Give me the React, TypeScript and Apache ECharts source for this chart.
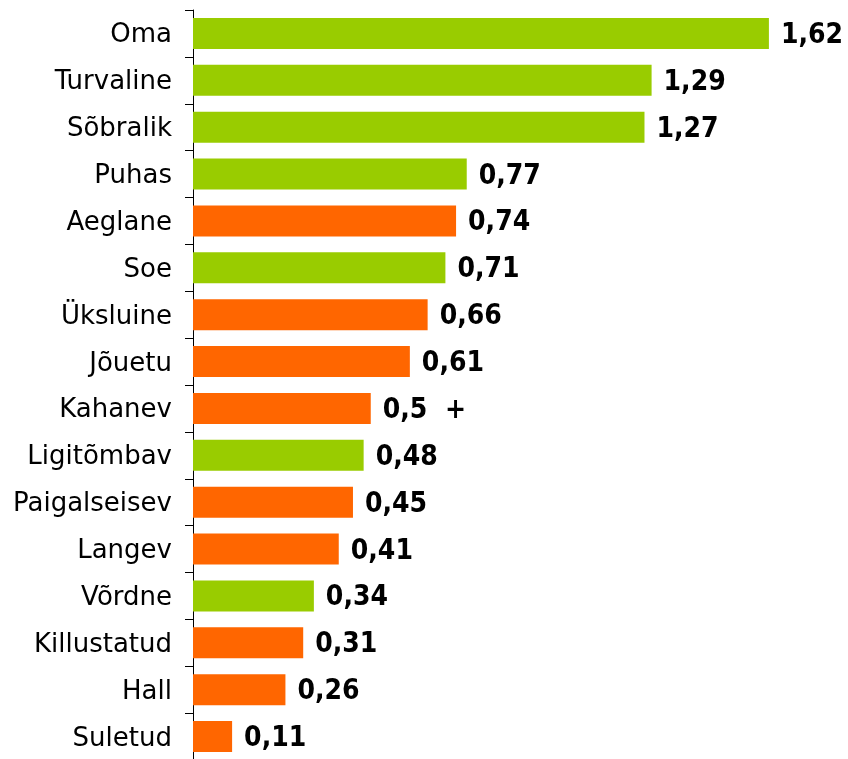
import React, { useEffect, useRef } from "react";
import * as echarts from "echarts";

const categories = ["Oma", "Turvaline", "Sõbralik", "Puhas", "Aeglane", "Soe", "Üksluine", "Jõuetu", "Kahanev", "Ligitõmbav", "Paigalseisev", "Langev", "Võrdne", "Killustatud", "Hall", "Suletud"];
const values = [1.62, 1.29, 1.27, 0.77, 0.74, 0.71, 0.66, 0.61, 0.5, 0.48, 0.45, 0.41, 0.34, 0.31, 0.26, 0.11];
const groups = ["pos", "pos", "pos", "pos", "neg", "pos", "neg", "neg", "neg", "pos", "neg", "neg", "pos", "neg", "neg", "neg"];
const suffixes = ["", "", "", "", "", "", "", "", "  +", "", "", "", "", "", "", ""];
const colors: Record<string, string> = { pos: "#99CC00", neg: "#FF6600" };

export default function App() {
  const ref = useRef<HTMLDivElement>(null);
  useEffect(() => {
    const chart = echarts.init(ref.current!, null, { renderer: "svg" });
    chart.setOption({
      animation: false,
      grid: { left: 193, top: 10, width: 711, height: 750, containLabel: false, outerBoundsMode: "none" },
      xAxis: { type: "value", min: 0, max: 2, show: false },
      yAxis: {
        type: "category",
        data: categories,
        inverse: true,
        axisLine: { show: true, lineStyle: { color: "#000", width: 1 } },
        axisTick: { show: true, length: 8, lineStyle: { color: "#000" } },
        axisLabel: { margin: 21, fontSize: 26, color: "#000", fontFamily: "DejaVu Sans", lineHeight: 26, padding: [7, 0, 0, 0] },
      },
      series: [
        {
          type: "bar",
          barWidth: 31,
          data: values.map((v, i) => ({ value: v, itemStyle: { color: colors[groups[i]] } })),
          label: {
            show: true,
            position: "right",
            distance: 12,
            fontSize: 28,
            fontWeight: "bold",
            color: "#000",
            fontFamily: "DejaVu Sans Condensed",
            lineHeight: 28,
            padding: [6, 0, 0, 0],
            formatter: (p: any) => String(p.value).replace(".", ",") + suffixes[p.dataIndex],
          },
        },
      ],
    });
    return () => chart.dispose();
  }, []);
  return <div ref={ref} style={{ position: "fixed", left: 0, top: 0, width: 848, height: 759 }} />;
}
